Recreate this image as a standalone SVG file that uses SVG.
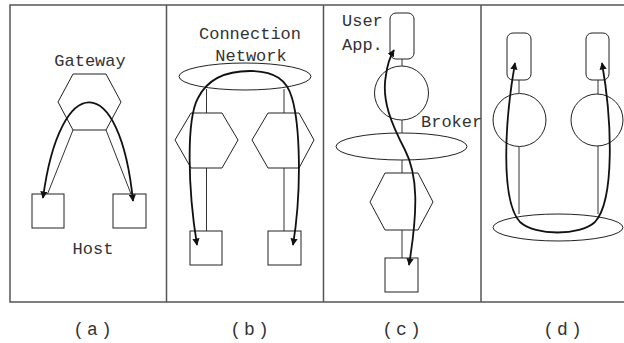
<svg xmlns="http://www.w3.org/2000/svg" width="624" height="343" viewBox="0 0 624 343">
  <style>
    .frame { fill: none; stroke: #555; stroke-width: 1.5; }
    .shape { fill: #fff; stroke: #222; stroke-width: 1; }
    .link { fill: none; stroke: #333; stroke-width: 1; }
    .path { fill: none; stroke: #111; stroke-width: 1.8; marker-start: url(#arrow); marker-end: url(#arrow); }
    .label { font-family: "Liberation Mono", "DejaVu Sans Mono", monospace; font-size: 17px; fill: #333; }
    .caption { font-family: "Liberation Mono", "DejaVu Sans Mono", monospace; font-size: 18px; letter-spacing: 3px; fill: #333; text-anchor: middle; }
  </style>
  <defs>
    <marker id="arrow" viewBox="0 0 10 10" refX="9" refY="5" markerWidth="4" markerHeight="4" orient="auto-start-reverse" markerUnits="strokeWidth">
      <path d="M0,0 L10,5 L0,10 Z" fill="#111"/>
    </marker>
  </defs>

  <rect width="624" height="343" fill="#fff"/>

  <!-- outer frame and panel dividers -->
  <g id="frame" class="frame">
    <path d="M624,5 H10 V302 H624"/>
    <line x1="166.5" y1="5" x2="166.5" y2="302"/>
    <line x1="323.5" y1="5" x2="323.5" y2="302"/>
    <line x1="481" y1="5" x2="481" y2="302"/>
  </g>

  <!-- thin attachment lines -->
  <g id="links" class="link">
    <!-- (a) -->
    <line x1="73" y1="130" x2="47.5" y2="194"/>
    <line x1="106" y1="130" x2="131" y2="194"/>
    <!-- (b) -->
    <line x1="206.5" y1="89" x2="206.5" y2="113"/>
    <line x1="206.5" y1="168" x2="206.5" y2="231"/>
    <line x1="284" y1="89" x2="284" y2="113"/>
    <line x1="284" y1="168" x2="284" y2="231"/>
    <!-- (c) -->
    <line x1="402" y1="59" x2="402" y2="66"/>
    <line x1="402" y1="120" x2="402" y2="133"/>
    <line x1="402" y1="160" x2="402" y2="173"/>
    <line x1="402" y1="230" x2="402" y2="258"/>
    <!-- (d) -->
    <line x1="519" y1="80" x2="519" y2="93"/>
    <line x1="519" y1="147" x2="519" y2="214"/>
    <line x1="598" y1="80" x2="598" y2="94"/>
    <line x1="598" y1="146" x2="598" y2="214"/>
  </g>

  <!-- panel (a): gateway between two hosts -->
  <g id="a-gateway">
    <polygon class="shape" points="73,74 106,74 121,102 106,130 73,130 58,102" fill="none" style="fill:none"/>
    <text class="label" x="90" y="66" text-anchor="middle">Gateway</text>
  </g>
  <g id="a-host-left"><rect class="shape" x="32" y="194" width="32" height="34"/></g>
  <g id="a-host-right"><rect class="shape" x="113" y="194" width="33" height="34"/></g>
  <g id="a-host-label"><text class="label" x="93" y="254" text-anchor="middle">Host</text></g>

  <!-- panel (b): connection network with two gateways -->
  <g id="b-network">
    <ellipse class="shape" cx="245" cy="76.5" rx="66" ry="13.5" style="fill:none"/>
    <text class="label" x="250" y="39" text-anchor="middle">Connection</text>
    <text class="label" x="251" y="61" text-anchor="middle">Network</text>
  </g>
  <g id="b-gateway-left"><polygon class="shape" points="191,113 222,113 238,140 222,168 191,168 175,140" style="fill:none"/></g>
  <g id="b-gateway-right"><polygon class="shape" points="268,113 299,113 314,140 299,168 268,168 252,140" style="fill:none"/></g>
  <g id="b-host-left"><rect class="shape" x="190" y="231" width="32" height="34"/></g>
  <g id="b-host-right"><rect class="shape" x="268" y="231" width="33" height="34"/></g>

  <!-- panel (c): user application, broker, network, gateway, host -->
  <g id="c-user-app">
    <rect class="shape" x="390" y="13" width="24" height="46" rx="6"/>
    <text class="label" x="342" y="26">User</text>
    <text class="label" x="342" y="50">App.</text>
  </g>
  <g id="c-broker">
    <circle class="shape" cx="401.5" cy="93" r="27" style="fill:none"/>
    <text class="label" x="421" y="127">Broker</text>
  </g>
  <g id="c-network"><ellipse class="shape" cx="401.5" cy="146.5" rx="65.5" ry="13.5" style="fill:none"/></g>
  <g id="c-gateway"><polygon class="shape" points="385,173 418,173 433,202 418,230 385,230 370,202" style="fill:none"/></g>
  <g id="c-host"><rect class="shape" x="385" y="258" width="33" height="34"/></g>

  <!-- panel (d): two applications with brokers on one network -->
  <g id="d-app-left"><rect class="shape" x="507" y="33" width="24" height="47" rx="6"/></g>
  <g id="d-app-right"><rect class="shape" x="586" y="33" width="23" height="47" rx="6"/></g>
  <g id="d-broker-left"><circle class="shape" cx="519.5" cy="120" r="26.5" style="fill:none"/></g>
  <g id="d-broker-right"><circle class="shape" cx="597" cy="120" r="26" style="fill:none"/></g>
  <g id="d-network"><ellipse class="shape" cx="558" cy="227.5" rx="65" ry="13.5" style="fill:none"/></g>

  <!-- message routes -->
  <g id="connectors">
    <path class="path" d="M43,198 C60,70 120,70 133,201"/>
    <path class="path" d="M197,245 C188,190 186,120 198,98 C207,80 225,71 250,71 C275,71 287,80 292,98 C300,125 302,190 293,245"/>
    <path class="path" d="M394,50 Q388,60 386,75 C381,100 392,125 405,150 C418,175 418,210 409,265"/>
    <path class="path" d="M515,63 C505,120 500,200 520,222 C535,236 580,236 595,222 C615,200 612,120 602,63"/>
  </g>

  <!-- panel captions -->
  <g id="captions">
    <text class="caption" x="94" y="335">(a)</text>
    <text class="caption" x="251" y="335">(b)</text>
    <text class="caption" x="403" y="335">(c)</text>
    <text class="caption" x="564" y="335">(d)</text>
  </g>
</svg>
